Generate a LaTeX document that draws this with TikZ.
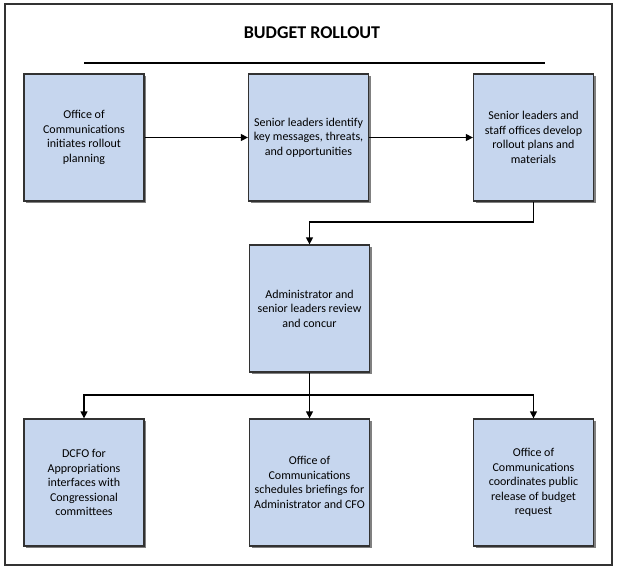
\documentclass[tikz,border=0pt]{standalone}
\usepackage{fontspec}
\setmainfont{Carlito}
\usetikzlibrary{arrows.meta,shadows}
\definecolor{boxfill}{RGB}{198,214,238}
\definecolor{boxline}{RGB}{50,50,50}
\definecolor{shade}{RGB}{128,128,128}
\tikzset{
  stepbox/.style={draw=boxline, line width=1.3pt, fill=boxfill,
    minimum width=120pt, minimum height=127pt, inner sep=0pt,
    align=center, font=\fontsize{12}{14.5}\selectfont,
    drop shadow={shadow xshift=2pt, shadow yshift=-2pt, fill=shade, opacity=1}},
  conn/.style={line width=1.3pt, draw=black},
  arr/.style={conn, -{Triangle[length=7pt,width=7pt]}}
}
\begin{document}
\begin{tikzpicture}[x=1pt,y=-1pt]
\useasboundingbox (0,0) rectangle (620,576);
\draw[draw=boxline, line width=1.5pt] (5,4) rectangle (612,565);
\node[font=\fontsize{18}{20}\selectfont\bfseries] (title) at (312,33) {BUDGET ROLLOUT};
\draw[line width=1.2pt] (84,63) -- (545,63);

\node[stepbox] (b1) at (84,137.5) {Office of\\Communications\\initiates rollout\\planning};
\node[stepbox] (b2) at (308.5,137.5) {Senior leaders identify\\key messages, threats,\\and opportunities};
\node[stepbox] (b3) at (533.5,137.5) {Senior leaders and\\staff offices develop\\rollout plans and\\materials};
\node[stepbox] (b4) at (309.5,308.5) {Administrator and\\senior leaders review\\and concur};
\node[stepbox] (b5) at (84,482.5) {DCFO for\\Appropriations\\interfaces with\\Congressional\\committees};
\node[stepbox] (b6) at (309.5,482.5) {Office of\\Communications\\schedules briefings for\\Administrator and CFO};
\node[stepbox] (b7) at (533.5,482.5) {Office of\\Communications\\coordinates public\\release of budget\\request};

\coordinate (j1) at (309.5,222);
\coordinate (j2) at (309.5,395);

\draw[arr] (b1.east) -- (b2.west);
\draw[arr] (b2.east) -- (b3.west);
\draw[arr] (b3.south) |- (j1) -- (b4.north);
\draw[conn] (b4.south) -- (j2);
\draw[arr] (j2) -| (b5.north);
\draw[arr] (j2) -| (b7.north);
\draw[arr] (j2) -- (b6.north);
\end{tikzpicture}
\end{document}
